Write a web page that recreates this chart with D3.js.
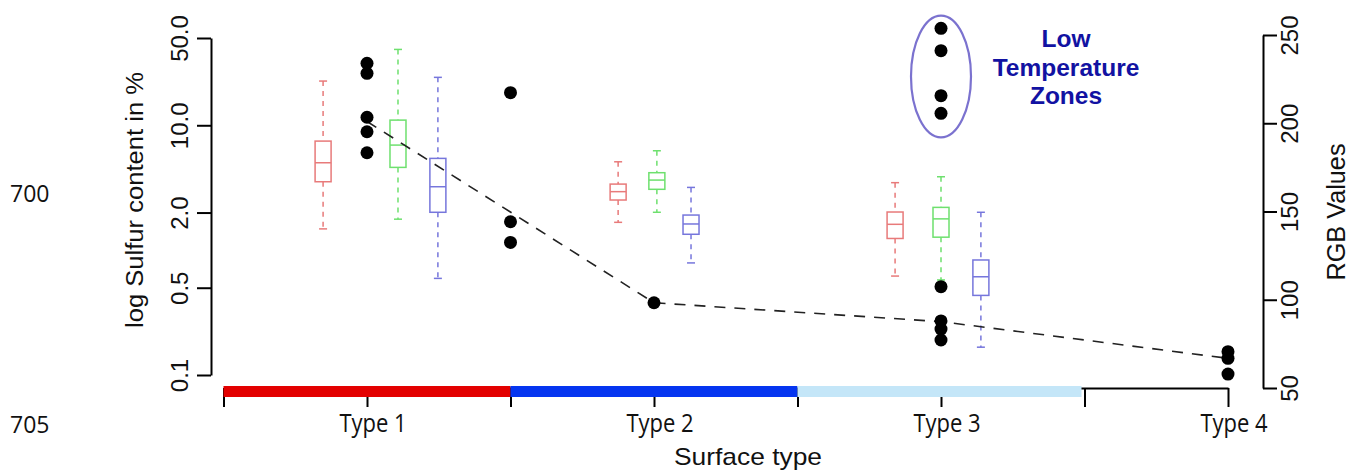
<!DOCTYPE html>
<html>
<head>
<meta charset="utf-8">
<script src="https://cdn.jsdelivr.net/npm/d3@7"></script>
<style>
  body { margin: 0; background: #fff; }
  svg { display: block; }
</style>
</head>
<body>
<svg id="chart" width="1349" height="472"></svg>
<script>
// ---- data ----
const surfaceTypes = ["Type 1", "Type 2", "Type 3", "Type 4"];
const sulfurTicks = [0.1, 0.5, 2, 10, 50];
const rgbTicks = [50, 100, 150, 200, 250];
const boundaryTicks = [0.5, 1.5, 2.5, 3.5];

// box statistics: [position, lower whisker, Q1, median, Q3, upper whisker] (sulfur %)
const redStats = [
  [0.847, 1.48, 3.53, 5.01, 7.47, 22.6],
  [1.875, 1.67, 2.52, 2.94, 3.38, 5.10],
  [2.840, 0.62, 1.24, 1.61, 2.02, 3.47]
];
const greenStats = [
  [1.108, 1.77, 4.60, 6.94, 11.0, 40.5],
  [2.010, 2.01, 3.07, 3.64, 4.17, 6.25],
  [3.000, 0.577, 1.27, 1.78, 2.20, 3.87]
];
const blueStats = [
  [1.247, 0.594, 2.01, 3.22, 5.43, 24.2],
  [2.129, 0.79, 1.34, 1.62, 1.91, 3.18],
  [3.139, 0.167, 0.434, 0.612, 0.834, 2.01]
];

// RGB sample points (position on surface axis, RGB value)
const pointPos = [1, 1, 1, 1, 1, 1.5, 1.5, 1.5, 2, 3, 3, 3, 3, 3, 3, 3, 3, 4, 4, 4];
const pointRGB = [234, 228.3, 203.4, 195.2, 183.3, 217.3, 144.2, 132.5, 98.3,
                  253.8, 241.1, 215.6, 205.6, 107.4, 88.0, 83.4, 77.2, 70.6, 66.8, 57.9];

// trend of RGB values across surface types
const trendPos = [1, 2, 3, 4];
const trendRGB = [201, 98.3, 87.6, 66.8];

// low temperature zone: RGB range enclosed
const lowTempRange = [192, 261];
const lowTempLines = ["Low", "Temperature", "Zones"];

// surface colour band segments
const bandStart = [0.5, 1.5, 2.5];
const bandEnd = [1.5, 2.5, 3.5];
const bandColors = ["#e30000", "#0535f0", "#c4e6f8"];

// ---- layout ----
const svg = d3.select("#chart");
svg.append("rect").attr("width", 1349).attr("height", 472).attr("fill", "#fff");

const x = d3.scaleLinear().domain([1, 4]).range([367, 1228]);
const yL = d3.scaleLog().domain([0.1, 50]).range([375, 38]);
const yR = d3.scaleLinear().domain([50, 250]).range([388, 35]);
const axisY = 388;

const sans = "'Liberation Sans', Arial, Helvetica, sans-serif";
const human = "'Open Sans', 'Noto Sans', sans-serif";

// ---- x axis ----
const xAxis = svg.append("g")
  .attr("transform", `translate(0,${axisY})`)
  .call(d3.axisBottom(x)
    .tickValues(boundaryTicks.concat([1, 2, 3, 4]))
    .tickSize(19).tickSizeOuter(0).tickFormat(""));
xAxis.select(".domain").attr("stroke", "#000").attr("stroke-width", 2);
xAxis.selectAll(".tick line").attr("stroke", "#000").attr("stroke-width", 2);

// colour band laid over the axis line
svg.append("g").selectAll("rect")
  .data(bandStart)
  .join("rect")
  .attr("x", (d) => x(d))
  .attr("width", (d, i) => x(bandEnd[i]) - x(d) - (i === bandStart.length - 1 ? 3 : 0))
  .attr("y", axisY - 2)
  .attr("height", 11)
  .attr("fill", (d, i) => bandColors[i]);

svg.append("g").selectAll("text")
  .data(surfaceTypes)
  .join("text")
  .attr("transform", (d, i) => `translate(${x(i + 1) + 6},432) scale(1,1.18)`)
  .attr("text-anchor", "middle")
  .attr("font-family", human)
  .attr("font-size", 22)
  .attr("fill", "#111")
  .text((d) => d);

svg.append("text")
  .attr("x", 748).attr("y", 465)
  .attr("text-anchor", "middle")
  .attr("font-family", sans)
  .attr("font-size", 24)
  .attr("textLength", 148)
  .attr("lengthAdjust", "spacingAndGlyphs")
  .attr("fill", "#111")
  .text("Surface type");

// ---- left axis (log sulfur) ----
const left = svg.append("g")
  .attr("transform", "translate(211,0)")
  .call(d3.axisLeft(yL).tickValues(sulfurTicks).tickSize(14).tickSizeOuter(0)
    .tickFormat(d3.format(".1f")));
left.select(".domain").attr("stroke", "#000").attr("stroke-width", 2);
left.selectAll(".tick line").attr("stroke", "#000").attr("stroke-width", 2);
left.selectAll(".tick text")
  .attr("transform", "rotate(-90)")
  .attr("x", 0).attr("y", -23).attr("dy", 0)
  .attr("text-anchor", "middle")
  .attr("font-family", sans).attr("font-size", 24).attr("fill", "#111");

svg.append("text")
  .attr("transform", "translate(143,200) rotate(-90)")
  .attr("text-anchor", "middle")
  .attr("font-family", sans)
  .attr("font-size", 23)
  .attr("textLength", 256)
  .attr("lengthAdjust", "spacingAndGlyphs")
  .attr("fill", "#111")
  .text("log Sulfur content in %");

// ---- right axis (RGB) ----
const right = svg.append("g")
  .attr("transform", "translate(1263,0)")
  .call(d3.axisRight(yR).tickValues(rgbTicks).tickSize(14).tickSizeOuter(0));
right.select(".domain").attr("stroke", "#000").attr("stroke-width", 2);
right.selectAll(".tick line").attr("stroke", "#000").attr("stroke-width", 2);
right.selectAll(".tick text")
  .attr("transform", "rotate(-90)")
  .attr("x", 0).attr("y", 35).attr("dy", 0)
  .attr("text-anchor", "middle")
  .attr("font-family", sans).attr("font-size", 24).attr("fill", "#111");

svg.append("text")
  .attr("transform", "translate(1345,212) rotate(-90)")
  .attr("text-anchor", "middle")
  .attr("font-family", sans)
  .attr("font-size", 25)
  .attr("textLength", 137)
  .attr("lengthAdjust", "spacingAndGlyphs")
  .attr("fill", "#111")
  .text("RGB Values");

// ---- boxplots ----
const boxHalf = 8, capHalf = 4;
function drawBoxes(stats, color) {
  const g = svg.append("g")
    .attr("stroke", color).attr("fill", "none").attr("stroke-width", 1.5);
  const b = g.selectAll("g").data(stats).join("g");
  // whiskers (dashed)
  b.append("line")
    .attr("x1", (d) => x(d[0])).attr("x2", (d) => x(d[0]))
    .attr("y1", (d) => yL(d[5])).attr("y2", (d) => yL(d[4]))
    .attr("stroke-dasharray", "5,5");
  b.append("line")
    .attr("x1", (d) => x(d[0])).attr("x2", (d) => x(d[0]))
    .attr("y1", (d) => yL(d[2])).attr("y2", (d) => yL(d[1]))
    .attr("stroke-dasharray", "5,5");
  // caps
  b.append("line")
    .attr("x1", (d) => x(d[0]) - capHalf).attr("x2", (d) => x(d[0]) + capHalf)
    .attr("y1", (d) => yL(d[5])).attr("y2", (d) => yL(d[5]));
  b.append("line")
    .attr("x1", (d) => x(d[0]) - capHalf).attr("x2", (d) => x(d[0]) + capHalf)
    .attr("y1", (d) => yL(d[1])).attr("y2", (d) => yL(d[1]));
  // box
  b.append("rect")
    .attr("x", (d) => x(d[0]) - boxHalf)
    .attr("width", boxHalf * 2)
    .attr("y", (d) => yL(d[4]))
    .attr("height", (d) => yL(d[2]) - yL(d[4]));
  // median
  b.append("line")
    .attr("x1", (d) => x(d[0]) - boxHalf).attr("x2", (d) => x(d[0]) + boxHalf)
    .attr("y1", (d) => yL(d[3])).attr("y2", (d) => yL(d[3]));
}
drawBoxes(redStats, "#e87a7a");
drawBoxes(greenStats, "#6ee06e");
drawBoxes(blueStats, "#7676dc");

// ---- RGB trend line ----
svg.append("path")
  .datum(trendPos)
  .attr("fill", "none")
  .attr("stroke", "#222")
  .attr("stroke-width", 1.6)
  .attr("stroke-dasharray", "11,9")
  .attr("d", d3.line().x((d) => x(d)).y((d, i) => yR(trendRGB[i])));

// ---- RGB points ----
svg.append("g").selectAll("circle")
  .data(pointPos)
  .join("circle")
  .attr("cx", (d) => x(d))
  .attr("cy", (d, i) => yR(pointRGB[i]))
  .attr("r", 6.5)
  .attr("fill", "#000");

// ---- low temperature annotation ----
svg.append("ellipse")
  .attr("cx", x(3))
  .attr("cy", (yR(lowTempRange[0]) + yR(lowTempRange[1])) / 2)
  .attr("rx", 30)
  .attr("ry", (yR(lowTempRange[0]) - yR(lowTempRange[1])) / 2)
  .attr("fill", "none")
  .attr("stroke", "#7b72cf")
  .attr("stroke-width", 2.2);

const note = svg.append("text")
  .attr("text-anchor", "middle")
  .attr("font-family", sans)
  .attr("font-weight", "bold")
  .attr("font-size", 24.5)
  .attr("fill", "#1212a2");
lowTempLines.forEach((t, i) => {
  note.append("tspan").attr("x", 1066).attr("y", 47 + i * 28.5).text(t);
});

// ---- page line numbers ----
svg.append("g").selectAll("text")
  .data(["700", "705"])
  .join("text")
  .attr("x", 10)
  .attr("y", (d, i) => [202, 433][i])
  .attr("font-family", human)
  .attr("font-size", 23)
  .attr("fill", "#111")
  .text((d) => d);
</script>
</body>
</html>
